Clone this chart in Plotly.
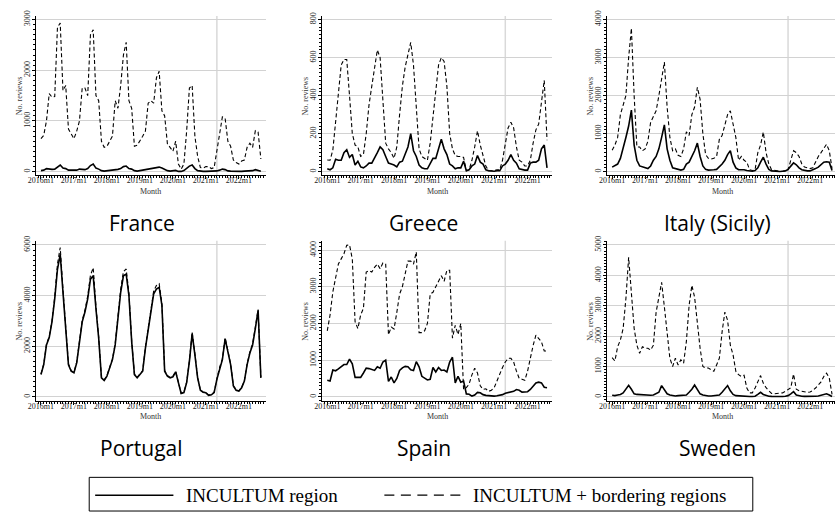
import plotly.graph_objects as go

W, H = 835, 513

# ---------------- data ----------------
tick_labels = ["2016m1", "2017m1", "2018m1", "2019m1", "2020m1", "2021m1", "2022m1"]
ref_month = "2021m5"

france_region = [20, 30, 60, 45, 45, 50, 90, 130, 70, 60, 30, 25,
                 30, 30, 50, 40, 40, 60, 120, 150, 70, 50, 20, 10,
                 15, 25, 30, 35, 45, 60, 100, 110, 60, 50, 20, 10,
                 15, 30, 40, 50, 50, 60, 80, 90, 70, 40, 20, 10,
                 15, 25, 5, 5, 20, 60, 110, 130, 60, 20, 10, 5,
                 5, 5, 5, 10, 15, 30, 50, 40, 15, 10, 5, 5,
                 5, 5, 10, 15, 20, 20, 40, 30, 10]
france_border = [650, 715, 1000, 1540, 1470, 1480, 2850, 2930, 1600, 1700, 840, 750,
                 650, 800, 1000, 1650, 1650, 1500, 2700, 2800, 1500, 1400, 600, 480,
                 500, 600, 700, 1400, 1250, 1700, 2300, 2550, 1400, 1250, 500, 520,
                 600, 700, 800, 1350, 1400, 1350, 1850, 1980, 1200, 1100, 550, 480,
                 400, 600, 150, 50, 150, 800, 1650, 1700, 700, 300, 80, 70,
                 100, 100, 60, 80, 400, 800, 1080, 1050, 600, 500, 230, 180,
                 150, 210, 230, 480, 560, 480, 810, 780, 250]

greece_region = [15, 10, 20, 65, 60, 60, 100, 115, 75, 90, 35, 55,
                 25, 20, 30, 45, 45, 70, 100, 130, 115, 80, 45, 40,
                 35, 25, 50, 55, 90, 130, 200, 110, 80, 35, 20, 15,
                 15, 40, 70, 70, 120, 170, 120, 90, 40, 30, 15, 20,
                 20, 55, 5, 10, 30, 40, 85, 50, 40, 10, 5, 3,
                 2, 5, 5, 30, 40, 60, 90, 60, 45, 15, 10, 8,
                 8, 45, 50, 50, 60, 120, 140, 20]
greece_border = [61, 60, 113, 270, 443, 560, 590, 590, 400, 200, 140, 130,
                 80, 90, 200, 350, 450, 550, 640, 600, 400, 150, 120, 100,
                 70, 130, 300, 450, 550, 620, 680, 560, 350, 120, 80, 70,
                 60, 150, 300, 450, 560, 600, 580, 450, 200, 120, 85, 80,
                 80, 75, 5, 10, 60, 130, 215, 140, 90, 30, 5, 5,
                 5, 10, 10, 60, 150, 230, 260, 230, 130, 60, 50, 30,
                 30, 60, 150, 220, 250, 360, 480, 165]

italy_region = [120, 150, 200, 350, 600, 900, 1200, 1620, 700, 300, 150, 120,
                100, 80, 150, 300, 400, 600, 900, 1230, 600, 300, 100, 80,
                60, 40, 60, 200, 250, 400, 550, 750, 400, 150, 60, 40,
                40, 50, 60, 120, 200, 300, 450, 550, 250, 100, 50, 50,
                50, 30, 20, 10, 30, 100, 250, 380, 200, 60, 20, 10,
                5, 5, 10, 20, 60, 150, 230, 180, 100, 50, 30, 20,
                20, 40, 80, 120, 180, 250, 260, 250, 30]
italy_border = [560, 700, 900, 1500, 1750, 2000, 3000, 3770, 2000, 650, 650, 550,
                600, 800, 1300, 1450, 1600, 2000, 2400, 2880, 1700, 900, 550, 600,
                430, 400, 600, 1050, 950, 1500, 1700, 2220, 1900, 1000, 450, 350,
                330, 350, 400, 850, 950, 1200, 1500, 1600, 1200, 900, 300, 400,
                300, 250, 50, 30, 50, 500, 700, 1040, 500, 200, 50, 30,
                20, 10, 10, 20, 50, 300, 550, 500, 400, 200, 120, 100,
                80, 100, 250, 400, 500, 600, 720, 550, 80]

portugal_region = [880, 1270, 2050, 2340, 2960, 3870, 5040, 5630, 4130, 2700, 1270, 1010,
                   950, 1340, 2180, 2960, 3350, 3870, 4650, 4780, 3480, 2310, 750, 650,
                   820, 1140, 1470, 2050, 3090, 4130, 4780, 4850, 4000, 2180, 880, 750,
                   880, 1010, 1920, 2700, 3480, 4070, 4260, 4330, 3610, 1010, 820, 750,
                   790, 990, 560, 130, 170, 560, 1400, 2500, 1660, 750, 260, 180,
                   160, 60, 80, 170, 690, 1140, 1470, 2290, 1790, 1270, 430, 260,
                   230, 360, 620, 1270, 1730, 2050, 2700, 3420, 750]
portugal_border = [900, 1300, 2080, 2380, 3000, 3950, 5250, 5900, 4250, 2750, 1300, 1030,
                   970, 1370, 2220, 3020, 3420, 3980, 4800, 5100, 3580, 2360, 770, 670,
                   840, 1170, 1500, 2100, 3160, 4250, 4950, 5050, 4100, 2230, 900, 770,
                   900, 1040, 1960, 2760, 3560, 4180, 4400, 4470, 3700, 1040, 840, 770,
                   810, 1010, 580, 140, 180, 580, 1430, 2550, 1700, 770, 270, 190,
                   170, 70, 90, 180, 710, 1170, 1500, 2330, 1830, 1300, 440, 270,
                   240, 370, 640, 1300, 1770, 2100, 2760, 3450, 770]

spain_region = [450, 430, 730, 710, 760, 820, 880, 880, 1030, 900, 530, 530,
                530, 650, 780, 770, 750, 720, 820, 780, 950, 1000, 420, 540,
                380, 500, 720, 790, 830, 820, 740, 720, 960, 820, 560, 500,
                460, 480, 800, 680, 800, 720, 730, 680, 950, 1080, 380, 560,
                400, 430, 80, 70, 20, 50, 120, 110, 60, 40, 30, 30,
                20, 30, 40, 60, 100, 110, 120, 150, 200, 180, 130, 130,
                140, 200, 300, 380, 400, 380, 260, 250]
spain_border = [1800, 2230, 2860, 3300, 3620, 3760, 3900, 4130, 4140, 3760, 2050, 1860,
                2230, 2410, 3400, 3440, 3400, 3530, 3620, 3490, 3650, 3620, 1690, 1900,
                1850, 2300, 2800, 3000, 3400, 3700, 3700, 3620, 3950, 1750, 1750, 1800,
                2000, 2800, 2850, 3000, 3150, 3300, 3150, 3450, 3450, 1600, 1950, 1700,
                2000, 200, 250, 350, 600, 780, 650, 300, 200, 220, 150, 180,
                250, 450, 650, 800, 950, 1050, 1050, 950, 700, 500, 480, 450,
                700, 1100, 1400, 1680, 1600, 1500, 1250, 1250]

sweden_region = [50, 40, 60, 80, 130, 250, 380, 250, 100, 80, 70, 60,
                 50, 40, 50, 60, 100, 150, 370, 250, 100, 60, 40, 30,
                 40, 40, 40, 60, 150, 250, 390, 250, 100, 60, 40, 30,
                 30, 40, 40, 60, 150, 250, 370, 200, 80, 40, 30, 30,
                 30, 20, 10, 10, 20, 80, 150, 80, 40, 20, 15, 10,
                 10, 10, 10, 20, 40, 100, 170, 60, 30, 20, 15, 10,
                 10, 15, 20, 30, 60, 90, 100, 60, 10]
sweden_border = [1290, 1180, 1650, 1870, 2250, 3230, 4590, 3450, 2250, 1700, 1430, 1650,
                 1600, 1600, 1540, 1700, 2790, 3280, 3770, 2960, 2030, 1270, 1000, 1270,
                 1050, 1220, 1110, 1820, 3010, 3670, 3280, 2360, 1600, 1000, 950, 950,
                 890, 840, 1050, 1270, 2140, 2790, 2520, 1700, 1380, 840, 730, 670,
                 710, 290, 130, 130, 290, 500, 700, 450, 300, 200, 110, 100,
                 110, 100, 130, 180, 240, 300, 750, 250, 200, 180, 160, 150,
                 160, 210, 290, 400, 490, 670, 780, 620, 80]

panels = [
    ("France", france_region, france_border, 3000, 1000),
    ("Greece", greece_region, greece_border, 800, 200),
    ("Italy (Sicily)", italy_region, italy_border, 4000, 1000),
    ("Portugal", portugal_region, portugal_border, 6000, 2000),
    ("Spain", spain_region, spain_border, 4000, 1000),
    ("Sweden", sweden_region, sweden_border, 5000, 1000),
]

# ---------------- layout geometry (pixels) ----------------
col_left = [28.3, 317.3, 605.0]
col_title_x = [135, 420, 716]
plot_w = 232.0
xpad = 1.8
rows = [  # bottom, zero, top-value, top
    dict(bottom=172.0, zero=168.3, topv=14.7, top=11.0, month=188.5, title=220.0),
    dict(bottom=400.0, zero=395.7, topv=242.3, top=238.0, month=415.5, title=447.0),
]

ref_idx = (int(ref_month[:4]) - int(tick_labels[0][:4])) * 12 + int(ref_month[5:]) - 1

fig = go.Figure()
serif = "Liberation Serif"
annotations = []
shapes = []

for i, (name, region, border, ytop_tick, ystep) in enumerate(panels):
    n = i + 1
    xa = "x" if n == 1 else f"x{n}"
    ya = "y" if n == 1 else f"y{n}"
    r = rows[i // 3]
    c = i % 3
    xs = list(range(len(region)))
    fig.add_trace(go.Scatter(x=xs, y=border, mode="lines",
                             line=dict(color="black", width=1.1, dash="4px,2.6px"),
                             xaxis=xa, yaxis=ya, showlegend=False, hoverinfo="skip"))
    fig.add_trace(go.Scatter(x=xs, y=region, mode="lines",
                             line=dict(color="black", width=1.6),
                             xaxis=xa, yaxis=ya, showlegend=False, hoverinfo="skip"))

    left = col_left[c]
    right = left + plot_w
    last = len(region) - 1
    span = last + 2 * xpad
    xr0 = -xpad
    if right > W:
        xr1 = -xpad + span * (W - left) / plot_w
        right = W
    else:
        xr1 = last + xpad

    T = max(ytop_tick, max(border), max(region))
    k = T / (r["zero"] - r["topv"])
    yr0 = -(r["bottom"] - r["zero"]) * k
    yr1 = T + (r["topv"] - r["top"]) * k

    xkey = "xaxis" if n == 1 else f"xaxis{n}"
    ykey = "yaxis" if n == 1 else f"yaxis{n}"
    fig.update_layout({
        xkey: dict(domain=[left / W, right / W], range=[xr0, xr1], anchor=ya,
                   showline=True, linecolor="black", linewidth=1.2,
                   ticks="outside", ticklen=3, tickwidth=1, tickcolor="black",
                   tickmode="array", tickvals=[12 * j for j in range(len(tick_labels))],
                   ticktext=tick_labels, tickfont=dict(family=serif, size=8, color="#222"),
                   ticklabelstandoff=-6,
                   showgrid=False, zeroline=False, fixedrange=True,
                   minor=dict(tickmode="linear", tick0=0, dtick=1, ticks="outside",
                              ticklen=2, tickwidth=0.7, tickcolor="black", showgrid=False)),
        ykey: dict(domain=[1 - r["bottom"] / H, 1 - r["top"] / H], range=[yr0, yr1], anchor=xa,
                   showline=True, linecolor="black", linewidth=1.2,
                   ticks="outside", ticklen=3, tickwidth=1, tickcolor="black",
                   tickmode="array", tickvals=list(range(0, ytop_tick + 1, ystep)),
                   tickangle=-90, tickfont=dict(family=serif, size=8, color="#222"),
                   ticklabelstandoff=-1,
                   showgrid=True, gridcolor="#d2d2d2", gridwidth=1.3,
                   zeroline=False, fixedrange=True,
                   minor=dict(tickmode="linear", tick0=0, dtick=ystep / 10, ticks="outside",
                              ticklen=2, tickwidth=0.7, tickcolor="black", showgrid=False)),
    })

    shapes.append(dict(type="line", xref=xa, yref=f"{ya} domain", x0=ref_idx, x1=ref_idx,
                       y0=0, y1=1, line=dict(color="#d9d9d9", width=1.5), layer="below"))

    annotations.append(dict(text="No. reviews", textangle=-90, xref="paper", yref="paper",
                            x=(left - 16.5) / W, y=1 - ((r["zero"] + r["topv"]) / 2) / H,
                            showarrow=False, xanchor="center", yanchor="middle",
                            font=dict(family=serif, size=8, color="#333")))
    annotations.append(dict(text="Month", xref="paper", yref="paper",
                            x=(left + plot_w / 2) / W, y=1 - r["month"] / H,
                            showarrow=False, xanchor="center", yanchor="middle",
                            font=dict(family=serif, size=8, color="#333")))
    annotations.append(dict(text=name, xref="paper", yref="paper",
                            x=col_title_x[c] / W, y=1 - r["title"] / H,
                            showarrow=False, xanchor="center", yanchor="middle",
                            font=dict(family="Open Sans", size=21, color="black")))

# ---------------- legend (drawn) ----------------
leg = dict(x0=82, x1=752, y0=477, y1=511, ymid=495)
shapes.append(dict(type="rect", xref="paper", yref="paper",
                   x0=leg["x0"] / W, x1=leg["x1"] / W, y0=1 - leg["y1"] / H, y1=1 - leg["y0"] / H,
                   line=dict(color="black", width=1), fillcolor="white"))
shapes.append(dict(type="line", xref="paper", yref="paper",
                   x0=88 / W, x1=167 / W, y0=1 - leg["ymid"] / H, y1=1 - leg["ymid"] / H,
                   line=dict(color="black", width=1.5)))
shapes.append(dict(type="line", xref="paper", yref="paper",
                   x0=380 / W, x1=457 / W, y0=1 - leg["ymid"] / H, y1=1 - leg["ymid"] / H,
                   line=dict(color="black", width=1.2, dash="10px,6.5px")))
annotations.append(dict(text="INCULTUM region", xref="paper", yref="paper",
                        x=178 / W, y=1 - leg["ymid"] / H, xanchor="left", yanchor="middle",
                        showarrow=False, font=dict(family=serif, size=19, color="black")))
annotations.append(dict(text="INCULTUM + bordering regions", xref="paper", yref="paper",
                        x=467 / W, y=1 - leg["ymid"] / H, xanchor="left", yanchor="middle",
                        showarrow=False, font=dict(family=serif, size=19, color="black")))

fig.update_layout(width=W, height=H, margin=dict(l=0, r=0, t=0, b=0),
                  paper_bgcolor="white", plot_bgcolor="white",
                  showlegend=False, shapes=shapes, annotations=annotations)

fig.write_html("out.html")
